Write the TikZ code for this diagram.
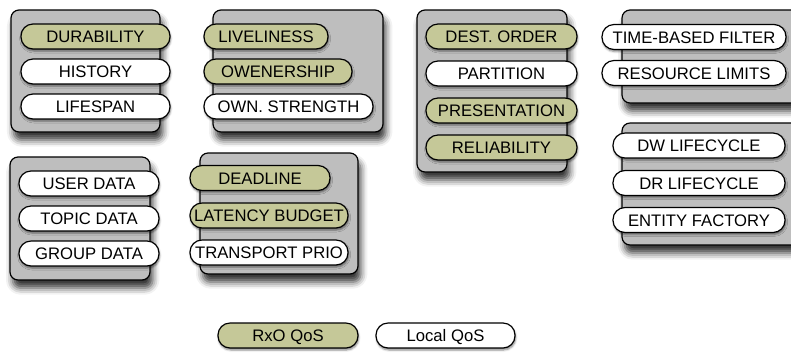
\documentclass[tikz,border=0pt]{standalone}
\usepackage{fontspec}
\setmainfont{Liberation Sans}
\usetikzlibrary{shadows.blur}

\definecolor{qosgreen}{RGB}{197,200,152}
\definecolor{boxgray}{RGB}{190,190,190}

\tikzset{
  group/.style={draw=black, line width=0.9pt, fill=boxgray, rounded corners=6pt,
    blur shadow={shadow xshift=2pt, shadow yshift=-6pt, shadow blur radius=5pt, shadow opacity=80}},
  pill/.style={draw=black, line width=0.9pt, rounded corners=9pt, minimum height=18.75pt,
    inner xsep=2pt, inner ysep=0pt, text height=9pt, text depth=0pt,
    font=\fontsize{12.5}{14}\selectfont,
    blur shadow={shadow xshift=0.5pt, shadow yshift=-1.5pt, shadow blur radius=1.5pt, shadow opacity=50}},
  rxo/.style={pill, fill=qosgreen, minimum width=#1*0.75pt},
  loc/.style={pill, fill=white, minimum width=#1*0.75pt},
}

\begin{document}
\begin{tikzpicture}[x=0.75pt,y=0.75pt,yscale=-1,xscale=1]
\useasboundingbox (0,0) rectangle (791,355);
\clip (0,0) rectangle (791,355);

%Shape: Group boxes
\draw[group] (11,10) rectangle (160,132);
\draw[group] (213,10) rectangle (383,132);
\draw[group] (417,10) rectangle (567,172);
\draw[group] (622,10) rectangle (805,103);
\draw[group] (622,123) rectangle (805,245);
\draw[group] (10,157) rectangle (150,280);
\draw[group] (200,153) rectangle (358,274);

% Text Node
\node[rxo=149] (durability) at (95.5,36.5) {DURABILITY};
\node[loc=149] (history) at (95.5,71.5) {HISTORY};
\node[loc=149] (lifespan) at (95.5,106.5) {LIFESPAN};

% Text Node
\node[rxo=124] (liveliness) at (266,36.5) {LIVELINESS};
\node[rxo=148] (ownership) at (278,71.5) {OWENERSHIP};
\node[loc=169] (ownstrength) at (288.5,106.5) {OWN. STRENGTH};

% Text Node
\node[rxo=151] (destorder) at (501.5,36.5) {DEST. ORDER};
\node[loc=151] (partition) at (501.5,73.5) {PARTITION};
\node[rxo=151] (presentation) at (501.5,110.5) {PRESENTATION};
\node[rxo=151] (reliability) at (501.5,147.5) {RELIABILITY};

% Text Node
\node[loc=184] (timefilter) at (694,37) {TIME-BASED FILTER};
\node[loc=184] (resourcelimits) at (694,73) {RESOURCE LIMITS};

% Text Node
\node[loc=172] (dwlifecycle) at (699,145.5) {DW LIFECYCLE};
\node[loc=172] (drlifecycle) at (699,183) {DR LIFECYCLE};
\node[loc=172] (entityfactory) at (699,220) {ENTITY FACTORY};

% Text Node
\node[loc=140] (userdata) at (89,183.5) {USER DATA};
\node[loc=140] (topicdata) at (89,218.5) {TOPIC DATA};
\node[loc=140] (groupdata) at (89,253.5) {GROUP DATA};

% Text Node
\node[rxo=140] (deadline) at (260,178) {DEADLINE};
\node[rxo=158] (latency) at (269,215.5) {LATENCY BUDGET};
\node[loc=158] (transportprio) at (269,252.5) {TRANSPORT PRIO};

% Text Node
\node[rxo=140] (rxoqos) at (288,335.5) {RxO QoS};
\node[loc=139] (localqos) at (445.5,335.5) {Local QoS};

\end{tikzpicture}
\end{document}
